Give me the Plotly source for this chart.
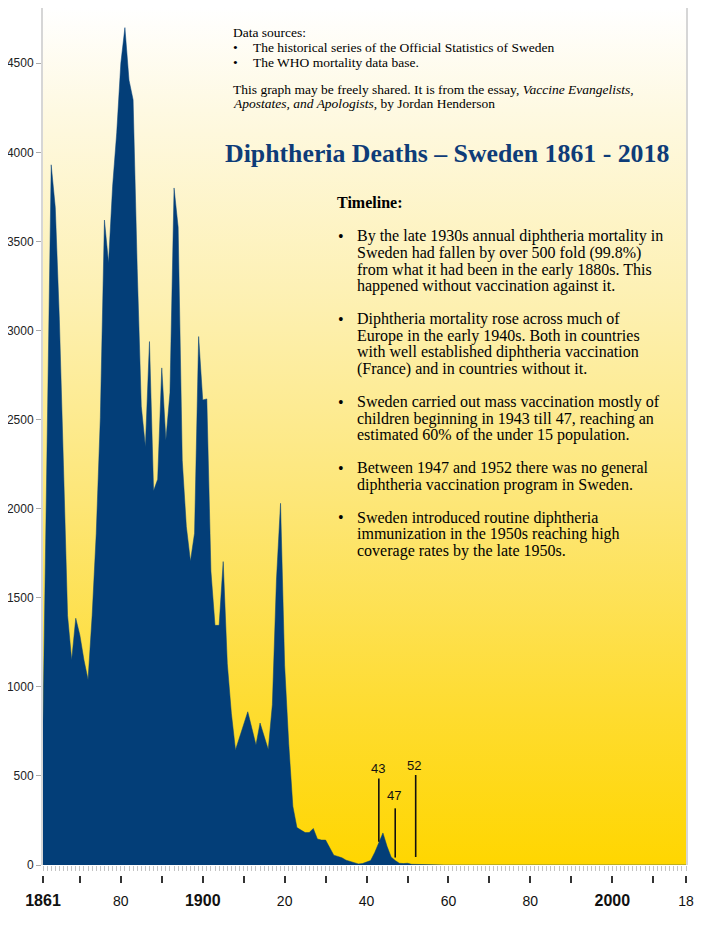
import plotly.graph_objects as go

# ---------------- data ----------------
years = list(range(1861, 2019))
deaths = [
    800, 2400, 3930, 3690, 3060, 2240, 1400, 1150, 1385, 1290,   # 1861-1870
    1150, 1040, 1400, 1860, 2510, 3620, 3380, 3810, 4110, 4500,  # 1871-1880
    4700, 4405, 4295, 3350, 2575, 2348, 2938, 2100, 2165, 2790,  # 1881-1890
    2386, 2650, 3800, 3580, 2270, 1900, 1705, 1862, 2966, 2610,  # 1891-1900
    2616, 1650, 1345, 1345, 1703, 1130, 850, 646, 717, 789,      # 1901-1910
    860, 767, 674, 797, 720, 648, 900, 1600, 2030, 1120,         # 1911-1920
    680, 330, 210, 196, 182, 182, 205, 146, 140, 140,            # 1921-1930
    95, 55, 48, 40, 27, 20, 10, 6, 8, 18,                        # 1931-1940
    25, 70, 125, 180, 105, 45, 25, 10, 8, 10,                    # 1941-1950
    4, 3, 2, 1, 1, 1, 1, 0, 0, 0,                                # 1951-1960
    0, 0, 0, 0, 0, 0, 0, 0, 0, 0,                                # 1961-1970
    0, 0, 0, 0, 0, 0, 0, 0, 0, 0,                                # 1971-1980
    0, 0, 0, 0, 0, 0, 0, 0, 0, 0,                                # 1981-1990
    0, 0, 0, 0, 0, 0, 0, 0, 0, 0,                                # 1991-2000
    0, 0, 0, 0, 0, 0, 0, 0, 0, 0,                                # 2001-2010
    0, 0, 0, 0, 0, 0, 0, 0,                                      # 2011-2018
]

y_ticks = [0, 500, 1000, 1500, 2000, 2500, 3000, 3500, 4000, 4500]
x_major_ticks = [1861, 1870, 1880, 1890, 1900, 1910, 1920, 1930, 1940,
                 1950, 1960, 1970, 1980, 1990, 2000, 2010, 2018]
x_major_labels = ["1861", "", "80", "", "1900", "", "20", "", "40",
                  "", "60", "", "80", "", "2000", "", "18"]
x_bold_labels = ["1861", "1900", "2000"]

marker_years = [1943, 1947, 1952]
marker_labels = ["43", "47", "52"]
marker_line_low = [130, 42, 45]
marker_line_high = [485, 318, 505]
marker_label_y = [540, 388, 556]

source_header = "Data sources:"
source_items = ["The historical series of the Official Statistics of Sweden",
                "The WHO mortality data base."]
share_note = ["This graph may be freely shared. It is from the essay, <i>Vaccine Evangelists,</i>",
              "<i>Apostates, and Apologists</i>, by Jordan Henderson"]
title_text = "Diphtheria Deaths – Sweden 1861 - 2018"
timeline_header = "Timeline:"
timeline_items = [
    ["By the late 1930s annual diphtheria mortality in",
     "Sweden had fallen by over 500 fold (99.8%)",
     "from what it had been in the early 1880s. This",
     "happened without vaccination against it."],
    ["Diphtheria mortality rose across much of",
     "Europe in the early 1940s. Both in countries",
     "with well established diphtheria vaccination",
     "(France) and in countries without it."],
    ["Sweden carried out mass vaccination mostly of",
     "children beginning in 1943 till 47, reaching an",
     "estimated 60% of the under 15 population."],
    ["Between 1947 and 1952 there was no general",
     "diphtheria vaccination program in Sweden."],
    ["Sweden introduced routine diphtheria",
     "immunization in the 1950s reaching high",
     "coverage rates by the late 1950s."],
]

# ---------------- layout constants ----------------
# the page body adds an 8px offset; page coordinates below are compensated
OFF = 8
W, H = 720 - OFF, 932 - OFF
ML, MR, MT, MB = 43 - OFF, 34, 0, 30
PW = W - ML - MR
PH = H - MT - MB
Y_MAX = 4810
X_MIN, X_MAX = years[0], years[-1]

SERIF = "Liberation Serif, Times New Roman, serif"
SANS = "Liberation Sans, Arial, sans-serif"
NAVY = "#033E78"


def fx(px):
    return (px - OFF - ML) / PW


def fy(py):
    return 1 - (py - OFF - MT) / PH


fig = go.Figure()

# gradient background of plot area
fig.add_trace(go.Scatter(
    x=[X_MIN, X_MAX, X_MAX, X_MIN, X_MIN],
    y=[0, 0, Y_MAX, Y_MAX, 0],
    mode="lines", line=dict(width=0), fill="toself",
    fillgradient=dict(type="vertical", colorscale=[
        [0.0, "#FFD600"], [0.18, "#FEDC30"], [0.42, "#FDE676"],
        [0.65, "#FDF0B0"], [0.88, "#FEF9E2"], [1.0, "#FFFFFF"]]),
    hoverinfo="skip", showlegend=False,
))

# deaths area
fig.add_trace(go.Scatter(
    x=years, y=deaths, mode="lines", fill="tozeroy",
    line=dict(color=NAVY, width=0.5), fillcolor=NAVY,
    hoverinfo="x+y", showlegend=False,
))

# invisible trace for the secondary (major tick) axis
fig.add_trace(go.Scatter(
    x=years, y=deaths, xaxis="x2", mode="lines",
    line=dict(width=0, color="rgba(0,0,0,0)"),
    hoverinfo="skip", showlegend=False,
))

# vaccination marker lines
shapes = []
for yr, lo, hi in zip(marker_years, marker_line_low, marker_line_high):
    shapes.append(dict(type="line", xref="x", yref="y", x0=yr, x1=yr, y0=lo, y1=hi,
                       line=dict(color="#111111", width=1.6)))

annotations = []
for yr, lab, ly in zip(marker_years, marker_labels, marker_label_y):
    annotations.append(dict(x=yr - 0.3, y=ly, xref="x", yref="y", text=lab, showarrow=False,
                            xanchor="center", yanchor="middle",
                            font=dict(family=SANS, size=13, color="#111111")))


def add_line(text, px, py, size, bold=False, color="#000000", family=SERIF):
    t = f"<b>{text}</b>" if bold else text
    annotations.append(dict(x=fx(px), y=fy(py), xref="paper", yref="paper", text=t,
                            showarrow=False, xanchor="left", yanchor="middle",
                            font=dict(family=family, size=size, color=color)))


# data sources block
SRC_SIZE = 13.5
src_y = 33
src_step = 14.5
add_line(source_header, 231, src_y, SRC_SIZE)
for i, item in enumerate(source_items):
    yy = src_y + (i + 1) * src_step
    add_line("•", 231, yy, SRC_SIZE)
    add_line(item, 250.5, yy, SRC_SIZE)
for i, line in enumerate(share_note):
    add_line(line, 230.5, 89 + i * src_step, SRC_SIZE)

# title
annotations.append(dict(x=fx(447), y=fy(153), xref="paper", yref="paper",
                        text=f"<b>{title_text}</b>", showarrow=False,
                        xanchor="center", yanchor="middle",
                        font=dict(family=SERIF, size=25.8, color="#0E3C78")))

# timeline
add_line(timeline_header, 335, 202.5, 16, bold=True)
TL_SIZE = 16
tl_y0 = 236.5
tl_step = 16.55
row = 0
for para in timeline_items:
    for j, line in enumerate(para):
        yy = tl_y0 + row * tl_step
        if j == 0:
            add_line("•", 336, yy, TL_SIZE)
        add_line(line, 355, yy, TL_SIZE)
        row += 1
    row += 1

# tick labels for major axis
major_text = []
for lab in x_major_labels:
    if lab in x_bold_labels:
        major_text.append(f"<span style='font-size:16px'><b>{lab}</b></span>")
    else:
        major_text.append(lab)

fig.update_layout(
    width=W, height=H,
    margin=dict(l=ML, r=MR, t=MT, b=MB, pad=0, autoexpand=False),
    paper_bgcolor="white", plot_bgcolor="white",
    showlegend=False,
    shapes=shapes, annotations=annotations,
    hovermode="closest",
    xaxis=dict(
        range=[X_MIN, X_MAX], domain=[0, 1], automargin=False,
        tickmode="linear", tick0=X_MIN, dtick=1,
        ticks="outside", ticklen=5, tickwidth=1, tickcolor="#c4c4c4",
        showticklabels=False, showline=False, showgrid=False, zeroline=False,
    ),
    xaxis2=dict(
        range=[X_MIN, X_MAX], overlaying="x", anchor="free", automargin=False,
        position=fy(875), side="bottom",
        tickmode="array", tickvals=x_major_ticks, ticktext=major_text,
        ticks="outside", ticklen=7, tickwidth=2, tickcolor="#333333",
        ticklabelstandoff=6,
        tickfont=dict(family=SANS, size=14, color="#111111"),
        showline=False, showgrid=False, zeroline=False,
    ),
    yaxis=dict(
        range=[0, Y_MAX], domain=[fy(865), 1], automargin=False,
        tickmode="array", tickvals=y_ticks,
        ticks="outside", ticklen=5, tickwidth=1, tickcolor="#aaaaaa",
        tickfont=dict(family=SANS, size=12, color="#222222"),
        showline=True, linecolor="#d6d6d6", linewidth=2, mirror=True,
        showgrid=False, zeroline=False,
    ),
)

fig.write_html("out.html")
